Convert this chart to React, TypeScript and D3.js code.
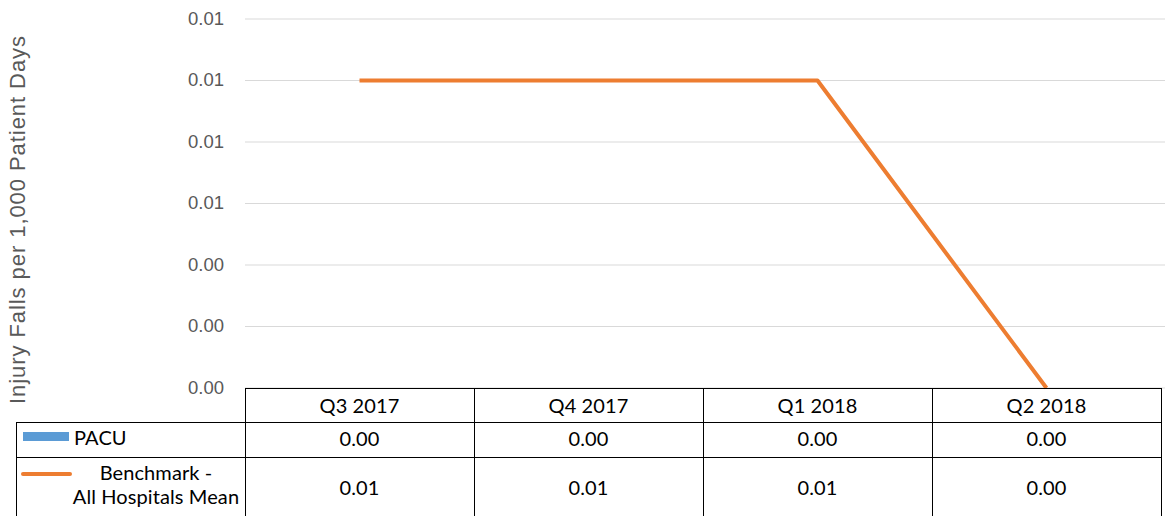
import React from "react";
import * as d3 from "d3";

const categories = ["Q3 2017", "Q4 2017", "Q1 2018", "Q2 2018"];
const pacuValues = [0, 0, 0, 0];
const benchmarkValues = [0.01, 0.01, 0.01, 0.0];
const yTicks = [0, 0.002, 0.004, 0.006, 0.008, 0.01, 0.012];
const seriesNames = ["PACU", "Benchmark -\nAll Hospitals Mean"];

const W = 1173;
const H = 516;
const plotLeft = 245;
const plotRight = 1161;
const plotTop = 19;
const plotBottom = 388;

export default function App() {
  const x = d3.scaleBand<string>().domain(categories).range([plotLeft, plotRight]).padding(0);
  const y = d3.scaleLinear().domain([0, 0.012]).range([plotBottom, plotTop]);
  const line = d3
    .line<number>()
    .x((_, i) => (x(categories[i]) as number) + x.bandwidth() / 2)
    .y((d) => y(d));

  const rowTop = [388, 422, 457];
  const rowBottom = 530;
  const tableFont = "Lato, Carlito, Calibri, 'Liberation Sans', sans-serif";
  const fs = 20;
  const ls = 0.1;

  return (
    <svg width={W} height={H} style={{ position: "absolute", left: 0, top: 0, background: "#fff" }}>
      <rect width={W} height={H} fill="#fff" />
      {yTicks.map((t) => (
        <g key={t}>
          <line x1={plotLeft} x2={plotRight + 4} y1={y(t)} y2={y(t)} stroke="#d9d9d9" strokeWidth={1} />
          <text
            x={224}
            y={y(t)}
            dy="0.32em"
            textAnchor="end"
            fontFamily="'Liberation Sans', Arial, sans-serif"
            fontSize={18.5}
            fill="#595959"
          >
            {d3.format(".2f")(t)}
          </text>
        </g>
      ))}
      <text
        transform={`translate(25,220) rotate(-90)`}
        textAnchor="middle"
        fontFamily="'Liberation Sans', Arial, sans-serif"
        fontSize={22}
        fill="#595959"
        textLength={368}
        lengthAdjust="spacing"
      >
        Injury Falls per 1,000 Patient Days
      </text>

      <path d={line(benchmarkValues) || ""} fill="none" stroke="#ED7D31" strokeWidth={4} strokeLinejoin="round" />

      {/* data table */}
      <g stroke="#000" strokeWidth={1} fill="none">
        <line x1={plotLeft} x2={plotRight} y1={rowTop[0] + 0.5} y2={rowTop[0] + 0.5} />
        <line x1={16} x2={plotRight} y1={rowTop[1] + 0.5} y2={rowTop[1] + 0.5} />
        <line x1={16} x2={plotRight} y1={rowTop[2] + 0.5} y2={rowTop[2] + 0.5} />
        <line x1={16.5} x2={16.5} y1={rowTop[1]} y2={rowBottom} />
        {categories.map((c) => (
          <line key={c} x1={(x(c) as number) + 0.5} x2={(x(c) as number) + 0.5} y1={rowTop[0]} y2={rowBottom} />
        ))}
        <line x1={plotRight + 0.5} x2={plotRight + 0.5} y1={rowTop[0]} y2={rowBottom} />
      </g>
      {categories.map((c, i) => {
        const cx = (x(c) as number) + x.bandwidth() / 2;
        return (
          <g key={c} fontFamily={tableFont} fontSize={fs} letterSpacing={ls} fill="#000" textAnchor="middle">
            <text x={cx} y={405.5} dy="0.36em">{c}</text>
            <text x={cx} y={438.5} dy="0.36em">{d3.format(".2f")(pacuValues[i])}</text>
            <text x={cx} y={488} dy="0.36em">{d3.format(".2f")(benchmarkValues[i])}</text>
          </g>
        );
      })}
      <rect x={23} y={432} width={46} height={9} fill="#5B9BD5" />
      <text x={74} y={437.5} dy="0.36em" fontFamily={tableFont} fontSize={fs} letterSpacing={ls} fill="#000">
        {seriesNames[0]}
      </text>
      <line x1={23} x2={70} y1={474} y2={474} stroke="#ED7D31" strokeWidth={4} strokeLinecap="round" />
      {seriesNames[1].split("\n").map((s, i) => (
        <text
          key={s}
          x={156}
          y={472.5 + i * 24.5}
          dy="0.36em"
          textAnchor="middle"
          fontFamily={tableFont}
          fontSize={fs}
          letterSpacing={ls}
          fill="#000"
        >
          {s}
        </text>
      ))}
    </svg>
  );
}
